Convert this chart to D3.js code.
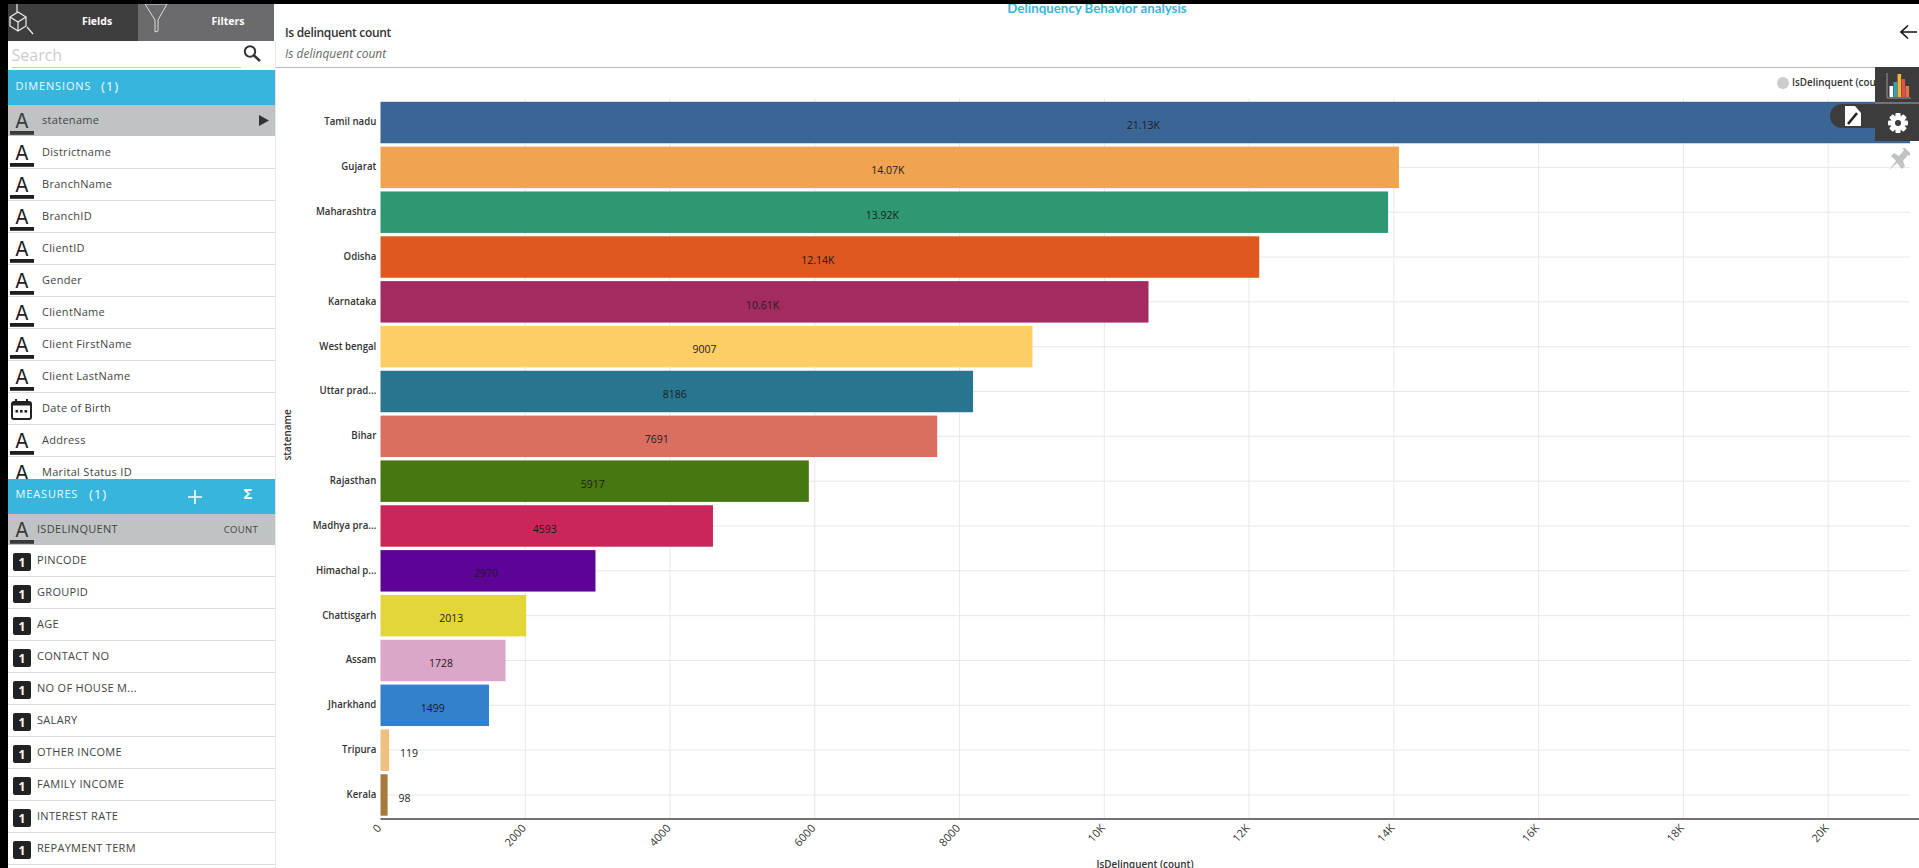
<!DOCTYPE html>
<html><head><meta charset="utf-8">
<script src="https://cdn.jsdelivr.net/npm/d3@7/dist/d3.min.js"></script>
<style>html,body{margin:0;padding:0;background:#fff;overflow:hidden}svg{display:block}text{font-family:"Open Sans",sans-serif}</style>
</head><body><svg id="c" width="1919" height="868"></svg>
<script>
const states=["Tamil nadu","Gujarat","Maharashtra","Odisha","Karnataka","West bengal","Uttar prad...","Bihar","Rajasthan","Madhya pra...","Himachal p...","Chattisgarh","Assam","Jharkhand","Tripura","Kerala"];
const counts=[21130,14070,13920,12140,10610,9007,8186,7691,5917,4593,2970,2013,1728,1499,119,98];
const colors=["#3b6595","#f0a351","#2f9771","#de581f","#a32b60","#fdce63","#28758f","#da6f60","#467710","#cb2659","#5d0395","#e3d63a","#dca6c9","#3380cc","#f0c081","#a67a3b"];
const xTicks=[0,2000,4000,6000,8000,10000,12000,14000,16000,18000,20000];
const dimensionFields=["statename","Districtname","BranchName","BranchID","ClientID","Gender","ClientName","Client FirstName","Client LastName","Date of Birth","Address","Marital Status ID"];
const measureFields=["ISDELINQUENT","PINCODE","GROUPID","AGE","CONTACT NO","NO OF HOUSE M...","SALARY","OTHER INCOME","FAMILY INCOME","INTEREST RATE","REPAYMENT TERM"];

const svg=d3.select("#c");
const fmt=v=>v>=10000?(v/1000)+"K":String(v);
const x=d3.scaleLinear().domain([0,21130]).range([380.5,1910]);
const y=d3.scaleBand().domain(states).range([100,817.5]).paddingInner(0.075).paddingOuter(0.04);
const plotTop=98,plotBottom=819,plotRight=1910;

// ---------- chart ----------
const chart=svg.append("g");
chart.append("g").selectAll("line").data(states).join("line")
 .attr("x1",x(0)).attr("x2",plotRight).attr("y1",d=>y(d)+y.bandwidth()/2).attr("y2",d=>y(d)+y.bandwidth()/2)
 .attr("stroke","#e8e8e8").attr("stroke-width",1);
chart.append("g").selectAll("line").data(xTicks.slice(1)).join("line")
 .attr("x1",d=>x(d)).attr("x2",d=>x(d)).attr("y1",plotTop).attr("y2",plotBottom)
 .attr("stroke","#e8e8e8").attr("stroke-width",1);
chart.append("g").selectAll("rect").data(states).join("rect")
 .attr("x",x(0)).attr("y",d=>y(d)).attr("height",y.bandwidth())
 .attr("width",(d,i)=>x(counts[i])-x(0)).attr("fill",(d,i)=>colors[i]);
chart.append("g").selectAll("text").data(states).join("text")
 .attr("x",(d,i)=>counts[i]<500?x(counts[i])+11:(x(0)+x(counts[i]))/2-2)
 .attr("y",d=>y(d)+y.bandwidth()/2+3)
 .attr("dy","0.35em").attr("font-size",10.5).attr("fill","#1c1c1c")
 .attr("text-anchor",(d,i)=>counts[i]<500?"start":"middle")
 .text((d,i)=>fmt(counts[i]));
// y axis
const ya=chart.append("g").attr("transform",`translate(${x(0)},0)`)
 .call(d3.axisLeft(y).tickSize(0).tickPadding(5));
ya.select(".domain").remove();
ya.selectAll("text").attr("font-size",11.5).attr("font-weight",600).attr("fill","#333")
 .style("font-family",'"Open Sans",sans-serif').attr("transform","scale(0.84,1)").attr("dy","0.25em");
// x axis
const xa=chart.append("g").attr("transform",`translate(0,${plotBottom})`)
 .call(d3.axisBottom(x).tickValues(xTicks).tickFormat(fmt).tickSize(0));
xa.select(".domain").attr("stroke","#444").attr("stroke-width",1.4).attr("d",`M${x(0)},0H1919`);
xa.selectAll("text").attr("font-size",11).attr("fill","#333").style("font-family",'"Open Sans",sans-serif')
 .attr("text-anchor","end").attr("x",0).attr("y",0).attr("dy","0.35em")
 .attr("transform","translate(-2,7) rotate(-48)");
// axis titles
chart.append("text").attr("transform","translate(291,435) rotate(-90) scale(0.86,1)").attr("text-anchor","middle")
 .attr("font-size",11.5).attr("font-weight",600).attr("fill","#333").text("statename");
chart.append("text").attr("transform","translate(1145,868) scale(0.86,1)").attr("text-anchor","middle")
 .attr("font-size",11.5).attr("font-weight",600).attr("fill","#333").text("IsDelinquent (count)");

// ---------- header ----------
const hdr=svg.append("g");
hdr.append("text").attr("x",1097).attr("y",13).attr("text-anchor","middle").attr("font-size",13.3).attr("font-weight",700)
 .style("font-family","Lato").attr("fill","#38b5dc").text("Delinquency Behavior analysis");
hdr.append("text").attr("x",285).attr("y",37).attr("font-size",12).attr("font-weight",600).attr("letter-spacing",-0.32).attr("fill","#333").text("Is delinquent count");
hdr.append("text").attr("x",285).attr("y",58).attr("font-size",12).attr("font-style","italic").attr("fill","#666").text("Is delinquent count");
hdr.append("line").attr("x1",275).attr("x2",1919).attr("y1",67.5).attr("y2",67.5).attr("stroke","#bbb");
hdr.append("path").attr("d","M1917,32H1901M1908,25.5L1901,32L1908,38.5").attr("fill","none").attr("stroke","#111").attr("stroke-width",1.6);
// legend
hdr.append("circle").attr("cx",1783).attr("cy",83).attr("r",6).attr("fill","#ccc");
hdr.append("text").attr("transform","translate(1792,86) scale(0.86,1)").attr("font-size",11.5).attr("font-weight",600).attr("fill","#333").text("IsDelinquent (count)");
// right tool panel
hdr.append("path").attr("d","M1875,128H1842a12,12 0 0 1 0,-24H1875Z").attr("fill","#3c3c3c");
hdr.append("path").attr("d","M1845,106h10l6,7v13h-16Z").attr("fill","#fff");
hdr.append("path").attr("d","M1848,124l9,-11").attr("stroke","#222").attr("stroke-width",2.6);
hdr.append("rect").attr("x",1875).attr("y",67).attr("width",44).attr("height",74).attr("fill","#3c3c3c");
hdr.append("line").attr("x1",1875).attr("x2",1919).attr("y1",103).attr("y2",103).attr("stroke","#aaa");
[["#fff",1889.5,86,11],["#2ea3b8",1893.5,82,15],["#f2b632",1897.5,74,23],["#d9534f",1901.5,79,18],["#e8743b",1905.5,86,11]].forEach(b=>{
 hdr.append("rect").attr("x",b[1]).attr("y",b[2]).attr("width",3.6).attr("height",b[3]).attr("fill",b[0]);
});
hdr.append("path").attr("d","M1887,73V98H1911").attr("fill","none").attr("stroke","#999");
const gear=hdr.append("g").attr("transform","translate(1898,123)");
gear.selectAll("rect").data([0,45,90,135]).join("rect").attr("x",-2.6).attr("y",-10).attr("width",5.2).attr("height",20).attr("rx",1).attr("fill","#fff").attr("transform",d=>`rotate(${d})`);
gear.append("circle").attr("r",7.2).attr("fill","#fff");
gear.append("circle").attr("r",3).attr("fill","#3c3c3c");
hdr.append("path").attr("d","M1889,170L1896,161L1891,156L1894,153L1899,156L1904,150L1902,148L1905,148L1910,153L1910,156L1908,155L1903,161L1905,166L1902,169L1897,163Z").attr("fill","#bfc3c4");

// ---------- sidebar ----------
const side=svg.append("g");
side.append("rect").attr("x",0).attr("y",0).attr("width",275).attr("height",868).attr("fill","#fff");
side.append("line").attr("x1",275.5).attr("x2",275.5).attr("y1",41).attr("y2",868).attr("stroke","#e8e8e8");
const rowLine=(g,yy)=>g.append("line").attr("x1",8).attr("x2",275).attr("y1",yy).attr("y2",yy).attr("stroke","#ddd");
const iconA=(g,cy,col)=>{
 g.append("text").attr("x",22).attr("y",cy+7.5).attr("text-anchor","middle").attr("font-size",20).attr("fill",col)
  .style("font-family","Inter").text("A");
 g.append("rect").attr("x",10).attr("y",cy+11).attr("width",24).attr("height",3.8).attr("fill",col);
};
const iconCal=(g,cy)=>{
 g.append("rect").attr("x",12).attr("y",cy-6).attr("width",19).attr("height",17).attr("rx",2).attr("fill","none").attr("stroke","#222").attr("stroke-width",2);
 g.append("rect").attr("x",12).attr("y",cy-6).attr("width",19).attr("height",3.5).attr("fill","#222");
 g.append("path").attr("d",`M16,${cy-9}v4M27,${cy-9}v4`).attr("stroke","#222").attr("stroke-width",2);
 g.selectAll(null).data([15.5,20,24.5]).join("rect").attr("x",d=>d).attr("y",cy+2).attr("width",2.6).attr("height",2.6).attr("fill","#222");
};
const dims=side.append("g");
dims.append("rect").attr("x",8).attr("y",105).attr("width",267).attr("height",31).attr("fill","#bfc3c4");
dimensionFields.forEach((f,i)=>{
 const cy=120+32*i;
 if(i>0) rowLine(dims,cy+16.5);
 if(f==="Date of Birth") iconCal(dims,cy); else iconA(dims,cy,i===0?"#3a3a3a":"#1e1e1e");
 dims.append("text").attr("x",42).attr("y",cy+4).attr("font-size",11).attr("letter-spacing",0.3).attr("fill","#444").text(f);
});
dims.append("path").attr("d","M259,115L269,120.5L259,126Z").attr("fill","#333");
// tabs
side.append("rect").attr("x",8).attr("y",4).attr("width",130).attr("height",37).attr("fill","#3e3e3e");
side.append("rect").attr("x",138).attr("y",4).attr("width",136).attr("height",37).attr("fill","#6b6b6d");
side.append("text").attr("x",97).attr("y",25).attr("text-anchor","middle").attr("font-size",10.5).attr("font-weight",700).attr("fill","#fff").text("Fields");
side.append("text").attr("x",228).attr("y",25).attr("text-anchor","middle").attr("font-size",10.5).attr("font-weight",700).attr("fill","#fff").text("Filters");
side.append("path").attr("d","M17,4V12M10,17L18,12L26,17V26L18,31L10,26ZM10,17L18,22L26,17M18,22V31M27,27L33,34").attr("fill","none").attr("stroke","#eee").attr("stroke-width",1.2);
side.append("path").attr("d","M145,4H167L158,20V31L155,32V20Z").attr("fill","none").attr("stroke","#ddd").attr("stroke-width",1);
// search
side.append("rect").attr("x",8).attr("y",41).attr("width",267).attr("height",29).attr("fill","#fff");
side.append("text").attr("x",11.5).attr("y",61).attr("font-size",16).attr("fill","#ccc").text("Search");
side.append("line").attr("x1",12).attr("x2",241).attr("y1",67.5).attr("y2",67.5).attr("stroke","#ccc");
side.append("circle").attr("cx",250).attr("cy",51.5).attr("r",5.2).attr("fill","none").attr("stroke","#333").attr("stroke-width",2);
side.append("line").attr("x1",254).attr("y1",55.5).attr("x2",260).attr("y2",61).attr("stroke","#333").attr("stroke-width",2.4);
// blue bars
side.append("rect").attr("x",8).attr("y",70).attr("width",267).attr("height",35).attr("fill","#38b5dc");
side.append("text").attr("x",15.5).attr("y",90).attr("font-size",11).attr("letter-spacing",0.85).attr("fill","#eafaff").text("DIMENSIONS");
side.append("text").attr("x",101).attr("y",91).attr("font-size",13.5).attr("letter-spacing",0.8).attr("fill","#eafaff").text("(1)");
// measures
const meas=side.append("g");
meas.append("rect").attr("x",8).attr("y",479).attr("width",267).attr("height",35).attr("fill","#38b5dc");
meas.append("text").attr("x",15.5).attr("y",498).attr("font-size",11).attr("letter-spacing",0.85).attr("fill","#eafaff").text("MEASURES");
meas.append("text").attr("x",89).attr("y",498.5).attr("font-size",13.5).attr("letter-spacing",0.8).attr("fill","#eafaff").text("(1)");
meas.append("path").attr("d","M195,490V504M188,497H202").attr("stroke","#fff").attr("stroke-width",1.6);
meas.append("text").attr("x",248).attr("y",499).attr("text-anchor","middle").attr("font-size",15).attr("font-weight",700).attr("fill","#fff").text("Σ");
meas.append("rect").attr("x",8).attr("y",514).attr("width",267).attr("height",31).attr("fill","#bfc3c4");
measureFields.forEach((f,i)=>{
 const cy=529+32*i;
 if(i>0) rowLine(meas,cy+15.5);
 if(i===0) iconA(meas,cy,"#3a3a3a");
 else{
  meas.append("rect").attr("x",13).attr("y",cy-8).attr("width",18).attr("height",18).attr("rx",2).attr("fill","#222");
  meas.append("text").attr("x",22).attr("y",cy+5.5).attr("text-anchor","middle").attr("font-size",12).attr("font-weight",700).attr("fill","#fff").text("1");
 }
 meas.append("text").attr("x",37).attr("y",(i?cy+3:cy+4)).attr("font-size",11).attr("letter-spacing",0.3).attr("fill","#444").text(f);
});
meas.append("text").attr("x",258).attr("y",533).attr("text-anchor","end").attr("font-size",9.5).attr("letter-spacing",0.3).attr("fill","#444").text("COUNT");
// frame
svg.append("rect").attr("x",0).attr("y",0).attr("width",1919).attr("height",4).attr("fill","#000");
svg.append("rect").attr("x",0).attr("y",0).attr("width",8).attr("height",868).attr("fill","#000");
</script></body></html>
